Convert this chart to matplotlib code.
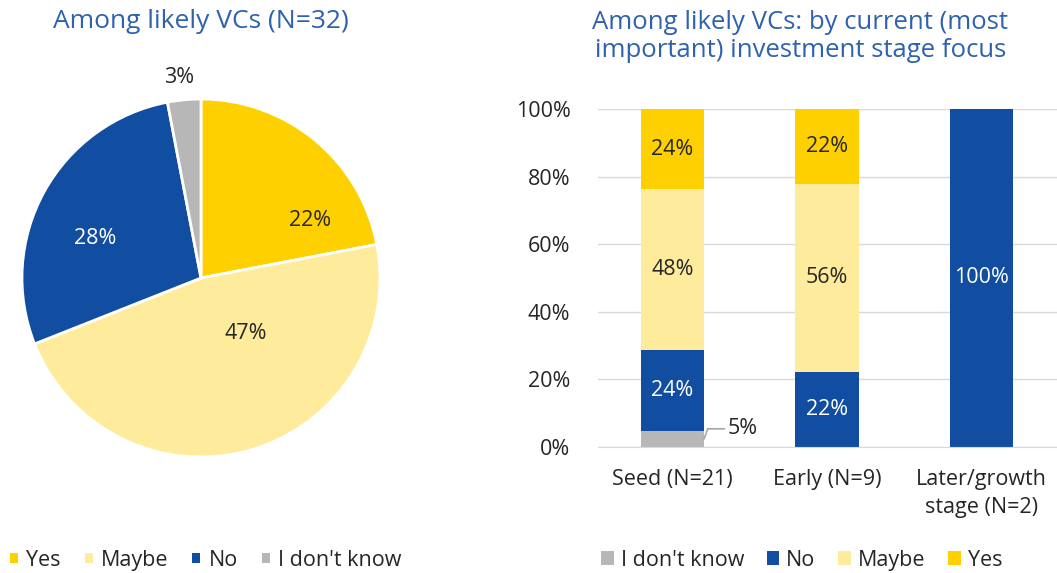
import matplotlib.pyplot as plt
from matplotlib.patches import Patch
import numpy as np

plt.rcParams['font.family'] = ['Open Sans', 'DejaVu Sans']

# colours per answer
YES = '#FFD000'
MAYBE = '#FFEB9C'
NO = '#114EA1'
DK = '#B7B7B7'
TITLE = '#2E62AF'
TEXT = '#262626'
FS = 15.5

# overall answer shares (%), pie runs clockwise from 12 o'clock
pie_labels = ["Yes", "Maybe", "No", "I don't know"]
pie_values = [22, 47, 28, 3]

# shares by investment stage focus (respondent counts / N)
stages = ["Seed (N=21)", "Early (N=9)", "Later/growth\nstage (N=2)"]
stage_n = [21, 9, 2]
dont_know = [1, 0, 0]
no = [5, 2, 2]
maybe = [10, 5, 0]
yes = [5, 2, 0]

fig = plt.figure(figsize=(10.57, 5.73), dpi=100)

# --- pie ---
ax1 = fig.add_axes([0.0208, 0.2024, 0.3387, 0.6248])
ax1.pie(pie_values, colors=[YES, MAYBE, NO, DK], startangle=90, counterclock=False,
        wedgeprops=dict(edgecolor='white', linewidth=2))
ax1.set_xlim(-1, 1)
ax1.set_ylim(-1, 1)
label_pos = [(0.61, 0.32), (0.25, -0.31), (-0.59, 0.22), (-0.12, 1.12)]
label_col = [TEXT, TEXT, 'white', TEXT]
for v, (x, y), c in zip(pie_values, label_pos, label_col):
    ax1.text(x, y, f"{v}%", ha='center', va='center', fontsize=FS, color=c)
fig.text(0.19, 0.963, "Among likely VCs (N=32)", ha='center', va='center',
         fontsize=19, color=TITLE)

# --- stacked bars ---
ax2 = fig.add_axes([0.566, 0.2199, 0.434, 0.5899])
x = np.arange(len(stages))
n = np.array(stage_n, dtype=float)
series = [(np.array(dont_know) / n * 100, DK),
          (np.array(no) / n * 100, NO),
          (np.array(maybe) / n * 100, MAYBE),
          (np.array(yes) / n * 100, YES)]
bottom = np.zeros(len(stages))
width = 0.41
for vals, col in series:
    ax2.bar(x, vals, width, bottom=bottom, color=col, zorder=3)
    for i, v in enumerate(vals):
        if v <= 0:
            continue
        if v < 10:
            # small segment: label outside with a leader line
            ax2.annotate(f"{v:.0f}%", xy=(x[i] + width / 2, bottom[i] + v / 2),
                         xytext=(x[i] + width / 2 + 0.15, bottom[i] + v / 2 + 3),
                         ha='left', va='center', fontsize=FS, color=TEXT,
                         arrowprops=dict(arrowstyle='-', color='#A6A6A6', lw=1.2,
                                         connectionstyle='angle,angleA=0,angleB=70,rad=0',
                                         shrinkA=0, shrinkB=0))
        else:
            tc = 'white' if col == NO else TEXT
            ax2.text(x[i], bottom[i] + v / 2, f"{v:.0f}%", ha='center', va='center',
                     fontsize=FS, color=tc, zorder=4)
    bottom += vals

ax2.set_xlim(-0.48, 2.49)
ax2.set_ylim(0, 100)
ax2.set_yticks(np.arange(0, 101, 20))
ax2.set_yticklabels([f"{t}%" for t in range(0, 101, 20)])
ax2.set_xticks(x)
ax2.set_xticklabels(stages, linespacing=1.45)
ax2.tick_params(length=0, labelsize=FS, colors=TEXT)
ax2.tick_params(axis='x', pad=16)
ax2.tick_params(axis='y', pad=20)
ax2.grid(axis='y', color='#D9D9D9', lw=1, zorder=0)
for s in ['top', 'right', 'left']:
    ax2.spines[s].set_visible(False)
ax2.spines['bottom'].set_color('#D9D9D9')
ax2.spines['bottom'].set_zorder(5)
fig.text(0.757, 0.937, "Among likely VCs: by current (most\nimportant) investment stage focus",
         ha='center', va='center', fontsize=18.5, color=TITLE, linespacing=1.15)

# --- legends ---
def handles(names, cols):
    return [Patch(facecolor=c, edgecolor='none', label=n) for n, c in zip(names, cols)]

fig.legend(handles=handles(pie_labels, [YES, MAYBE, NO, DK]), loc='center left',
           bbox_to_anchor=(-0.009, 0.022), ncol=4, frameon=False, fontsize=FS,
           handlelength=0.37, handleheight=0.37, handletextpad=0.4, columnspacing=1.1,
           labelcolor=TEXT)
fig.legend(handles=handles(["I don't know", "No", "Maybe", "Yes"], [DK, NO, MAYBE, YES]),
           loc='center left', bbox_to_anchor=(0.55, 0.022), ncol=4, frameon=False,
           fontsize=FS, handlelength=0.6, handleheight=0.6, handletextpad=0.32,
           columnspacing=1.05, labelcolor=TEXT)

fig.savefig('out.png', dpi=100)
